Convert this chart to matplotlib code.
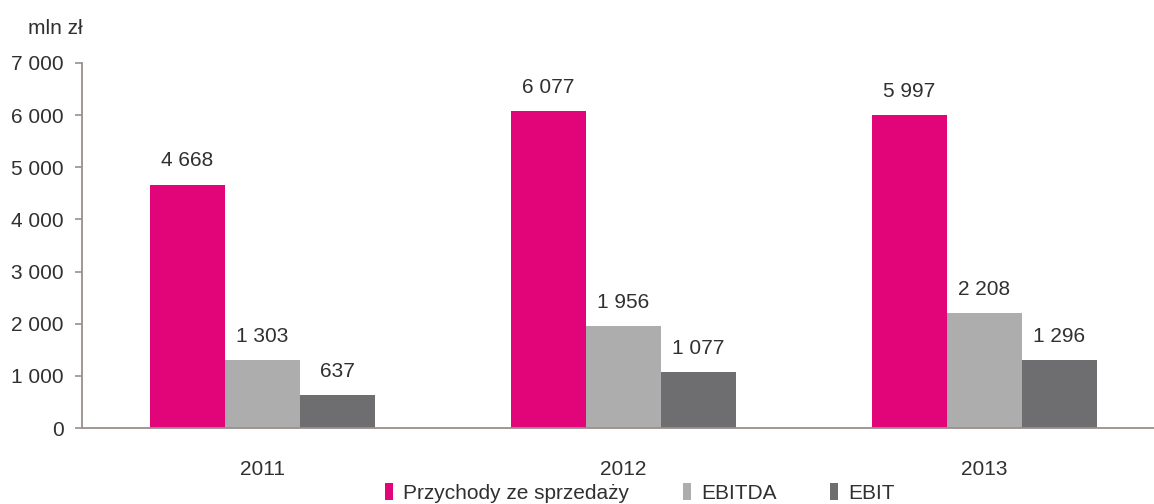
import matplotlib.pyplot as plt
import numpy as np
from matplotlib.patches import Patch

plt.rcParams['font.family'] = ['Liberation Sans', 'DejaVu Sans']

years = ['2011', '2012', '2013']
series_names = ['Przychody ze sprzedaży', 'EBITDA', 'EBIT']
revenue = [4668, 6077, 5997]
ebitda = [1303, 1956, 2208]
ebit = [637, 1077, 1296]
colors = ['#E2057A', '#ADADAD', '#6E6E70']
yticks = [0, 1000, 2000, 3000, 4000, 5000, 6000, 7000]


def fmt(v):
    return f'{v:,}'.replace(',', ' ')


W, H = 1154, 504
fig = plt.figure(figsize=(W / 100, H / 100), dpi=100)
ax_left, ax_bottom = 82 / W, 76 / H
ax = fig.add_axes([ax_left, ax_bottom, 1083 / W, 365 / H])

x = np.arange(len(years))
bw = 75 / 361
axis_col = '#9A908C'
txt_col = '#303030'
fs = 15

for i, (vals, c) in enumerate(zip([revenue, ebitda, ebit], colors)):
    pos = x + (i - 1) * bw
    ax.bar(pos, vals, width=bw, color=c, edgecolor='none', zorder=2)
    for p, v in zip(pos, vals):
        ax.annotate(fmt(v), (p, v), xytext=(0, 17), textcoords='offset points',
                    ha='center', va='center', fontsize=fs, color=txt_col)

ax.set_xlim(-0.5, 2.5)
ax.set_ylim(0, 7000)
ax.set_yticks(yticks)
ax.set_yticklabels([fmt(t) for t in yticks], fontsize=fs, color=txt_col)
ax.set_xticks(x)
ax.set_xticklabels(years, fontsize=fs, color=txt_col)
ax.tick_params(axis='x', length=0, pad=23)
ax.tick_params(axis='y', length=5, width=1.2, color=axis_col, pad=8)

for s in ['top', 'right']:
    ax.spines[s].set_visible(False)
for s in ['left', 'bottom']:
    ax.spines[s].set_color(axis_col)
    ax.spines[s].set_linewidth(1.3)

fig.text(55 / W, 1 - 28 / H, 'mln zł', fontsize=fs, ha='center', va='center', color=txt_col)

handles = [Patch(facecolor=c, edgecolor='none') for c in colors]
fig.legend(handles, series_names, loc='center', bbox_to_anchor=(640 / W, 1 - 493 / H),
           ncol=3, frameon=False, fontsize=fs, handlelength=0.4, handleheight=0.85,
           handletextpad=0.5, columnspacing=2.55, labelcolor=txt_col)

fig.savefig('out.png', dpi=100, facecolor='white')
